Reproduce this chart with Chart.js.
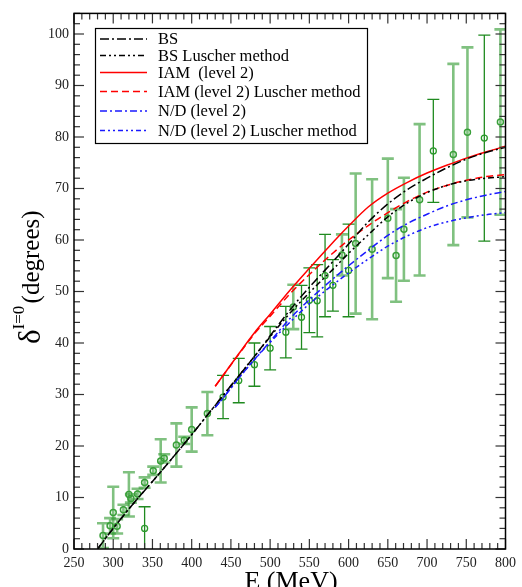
<!DOCTYPE html>
<html>
<head>
<meta charset="utf-8">
<script src="https://cdn.jsdelivr.net/npm/chart.js@4.4.0/dist/chart.umd.min.js"></script>
<style>
  html, body { margin: 0; padding: 0; background: #fff; }
  #wrap { width: 522px; height: 587px; position: relative; }
</style>
</head>
<body>
<div id="wrap"><canvas id="phaseChart"></canvas></div>
<script>
// Experimental points, set drawn with thin dark error bars
const darkEnergy = [340, 440, 460, 480, 500, 520, 540, 550, 560, 570, 580, 600, 708, 773];
const darkPhase  = [4.0, 29.5, 32.7, 35.8, 39.0, 42.1, 45.0, 48.3, 48.2, 53.1, 51.2, 54.1, 77.3, 79.8];
const darkError  = [4.2, 4.2, 4.3, 4.2, 4.2, 5.0, 6.2, 6.3, 7.0, 8.0, 5.0, 9.0, 10.0, 20.0];

// Experimental points, set drawn with wide light error bars
const lightEnergy = [287, 296, 300, 305, 313, 320, 322.5, 331, 340, 351, 360.5, 365, 380.5, 390.5, 400, 420,
                     529.5, 591.5, 609, 630, 650, 660.5, 670.5, 690.5, 733.5, 751.5, 793.5];
const lightPhase  = [2.6, 4.5, 7.1, 4.4, 7.6, 10.6, 9.8, 10.7, 12.9, 15.2, 17.1, 17.6, 20.2, 21.1, 23.2, 26.3,
                     47.0, 57.1, 59.3, 58.2, 64.2, 57.0, 62.1, 67.8, 76.6, 80.9, 82.9];
const lightError  = [2.4, 1.5, 5.0, 1.4, 1.0, 4.3, 0.8, 1.0, 1.0, 0.8, 4.2, 0.8, 4.2, 0.7, 4.3, 4.2,
                     4.3, 4.0, 13.6, 13.6, 11.6, 9.0, 10.0, 14.7, 17.6, 16.5, 18.0];

// BS curves
const bsEnergy = [280, 300, 325, 350, 375, 400, 420, 440, 460, 480, 500, 520, 540, 560, 580, 600, 625, 650, 675, 700, 725, 750, 775, 800];
const bsPhase  = [0, 4.0, 8.7, 13.1, 17.6, 22.2, 26.0, 29.8, 33.6, 37.4, 41.4, 45.4, 49.1, 52.5, 55.8, 59.2, 63.5, 67.0, 69.8, 72.0, 74.0, 75.7, 77.0, 78.0];
const bsLuscherPhase = [0, 4.0, 8.7, 13.1, 17.6, 22.2, 26.0, 29.8, 33.6, 37.4, 41.2, 44.9, 48.2, 51.3, 54.3, 57.4, 61.0, 64.5, 67.2, 69.2, 70.6, 71.5, 72.0, 72.3];

// IAM and N/D curves (level 2)
const modelEnergy = [430, 440, 460, 480, 500, 525, 550, 575, 600, 625, 650, 675, 700, 725, 750, 775, 800];
const iamPhase        = [31.6, 33.7, 37.9, 42.0, 45.6, 50.2, 54.5, 58.7, 62.7, 66.4, 69.1, 71.2, 73.0, 74.5, 75.9, 77.1, 78.2];
const iamLuscherPhase = [31.6, 33.7, 37.8, 41.8, 45.2, 49.5, 53.3, 56.8, 60.0, 62.8, 65.3, 67.5, 69.3, 70.6, 71.6, 72.3, 72.7];
const ndPhase         = [27.5, 29.3, 33.2, 36.8, 40.3, 44.7, 48.4, 51.8, 55.0, 58.0, 60.9, 63.2, 65.0, 66.6, 67.8, 68.7, 69.4];
const ndLuscherPhase  = [27.5, 29.3, 33.2, 36.8, 40.1, 44.0, 47.6, 50.7, 53.6, 56.3, 58.8, 60.8, 62.4, 63.5, 64.3, 64.9, 65.3];

const xTicks = [250, 300, 350, 400, 450, 500, 550, 600, 650, 700, 750, 800];
const yTicks = [0, 10, 20, 30, 40, 50, 60, 70, 80, 90, 100];

const serif = '"Liberation Serif", "DejaVu Serif", serif';
const toPoints = (xs, ys) => xs.map((v, i) => ({ x: v, y: ys[i] }));

const curveStyle = (label, xs, ys, color, dash) => ({
    label: label,
    data: toPoints(xs, ys),
    showLine: true,
    borderColor: color,
    borderWidth: 1.5,
    borderDash: dash,
    pointRadius: 0,
    cubicInterpolationMode: 'monotone',
    fill: false,
    legendDash: dash
});

const datasets = [
    curveStyle('BS', bsEnergy, bsPhase, '#000', [9, 3, 2, 3]),
    curveStyle('BS Luscher method', bsEnergy, bsLuscherPhase, '#000', [6, 3, 2, 3, 2, 3]),
    curveStyle('IAM  (level 2)', modelEnergy, iamPhase, '#ff0000', []),
    curveStyle('IAM (level 2) Luscher method', modelEnergy, iamLuscherPhase, '#ff0000', [7, 4]),
    curveStyle('N/D (level 2)', modelEnergy, ndPhase, '#1a1aff', [7, 3, 2, 3]),
    curveStyle('N/D (level 2) Luscher method', modelEnergy, ndLuscherPhase, '#1a1aff', [5, 3, 2, 3, 2, 3]),
    {
        label: 'data A',
        data: toPoints(darkEnergy, darkPhase),
        errors: darkError,
        barColor: '#1f8a1f',
        barWidth: 1.3,
        showLine: false,
        pointStyle: 'circle',
        pointRadius: 3,
        borderWidth: 1.3,
        borderColor: '#2a9a2a',
        backgroundColor: 'rgba(0,0,0,0)',
        inLegend: false
    },
    {
        label: 'data B',
        data: toPoints(lightEnergy, lightPhase),
        errors: lightError,
        barColor: 'rgba(60,160,60,0.65)',
        barWidth: 2.6,
        showLine: false,
        pointStyle: 'circle',
        pointRadius: 3,
        borderWidth: 1.5,
        borderColor: '#3aa03a',
        backgroundColor: 'rgba(0,0,0,0)',
        inLegend: false
    }
];

// Error bars with caps, drawn under the markers
const errorBars = {
    id: 'errorBars',
    beforeDatasetsDraw(chart) {
        const { ctx, chartArea: a, scales: { x, y } } = chart;
        ctx.save();
        ctx.beginPath();
        ctx.rect(a.left, a.top, a.right - a.left, a.bottom - a.top);
        ctx.clip();
        chart.data.datasets.forEach(ds => {
            if (!ds.errors) return;
            ctx.strokeStyle = ds.barColor;
            ctx.lineWidth = ds.barWidth;
            ds.data.forEach((p, j) => {
                const px = x.getPixelForValue(p.x);
                const top = y.getPixelForValue(p.y + ds.errors[j]);
                const bot = y.getPixelForValue(p.y - ds.errors[j]);
                ctx.beginPath();
                ctx.moveTo(px, top); ctx.lineTo(px, bot);
                ctx.moveTo(px - 6, top); ctx.lineTo(px + 6, top);
                ctx.moveTo(px - 6, bot); ctx.lineTo(px + 6, bot);
                ctx.stroke();
            });
        });
        ctx.restore();
    }
};

// Frame with inward ticks on all four sides
const frameTicks = {
    id: 'frameTicks',
    afterDatasetsDraw(chart) {
        const { ctx, chartArea: a, scales: { x, y } } = chart;
        const seg = (x1, y1, x2, y2) => { ctx.beginPath(); ctx.moveTo(x1, y1); ctx.lineTo(x2, y2); ctx.stroke(); };
        ctx.save();
        ctx.strokeStyle = '#333';
        ctx.lineWidth = 1.2;
        for (let e = 250; e <= 800; e += 10) {
            const px = x.getPixelForValue(e);
            const len = e % 50 === 0 ? 10 : 6;
            seg(px, a.bottom, px, a.bottom - len);
            seg(px, a.top, px, a.top + len);
        }
        for (let d = 0; d <= 104; d += 2) {
            const py = y.getPixelForValue(d);
            const len = d % 10 === 0 ? 10 : 6;
            seg(a.left, py, a.left + len, py);
            seg(a.right, py, a.right - len, py);
        }
        ctx.strokeStyle = '#000';
        ctx.lineWidth = 1.5;
        ctx.strokeRect(a.left, a.top, a.right - a.left, a.bottom - a.top);
        ctx.restore();
    }
};

// Boxed legend in the upper left and the axis titles
const legendAndTitles = {
    id: 'legendAndTitles',
    afterDraw(chart) {
        const { ctx } = chart;
        ctx.save();
        // legend box
        ctx.fillStyle = '#fff';
        ctx.fillRect(95, 28, 273, 115);
        ctx.strokeStyle = '#000';
        ctx.lineWidth = 1.2;
        ctx.strokeRect(95.5, 28.5, 272, 115);
        const rows = [39, 55.5, 72.5, 91.5, 111, 130.5];
        let r = 0;
        chart.data.datasets.forEach(ds => {
            if (ds.inLegend === false) return;
            const yy = rows[r++];
            ctx.strokeStyle = ds.borderColor;
            ctx.lineWidth = 1.5;
            ctx.setLineDash(ds.legendDash);
            ctx.beginPath();
            ctx.moveTo(100, yy); ctx.lineTo(147, yy);
            ctx.stroke();
            ctx.setLineDash([]);
            ctx.fillStyle = '#000';
            ctx.font = '16.5px ' + serif;
            ctx.textBaseline = 'middle';
            ctx.textAlign = 'left';
            ctx.fillText(ds.label, 158, yy + 1);
        });

        // x title
        ctx.fillStyle = '#000';
        ctx.font = '26px ' + serif;
        ctx.textAlign = 'center';
        ctx.textBaseline = 'alphabetic';
        ctx.fillText('E (MeV)', 291, 589);

        // y title: delta with superscript I=0, then (degrees)
        ctx.translate(40, 344);
        ctx.rotate(-Math.PI / 2);
        ctx.textAlign = 'left';
        ctx.font = '31px ' + serif;
        ctx.fillText('δ', 0, 0);
        let off = ctx.measureText('δ').width;
        ctx.font = '17px ' + serif;
        ctx.fillText('I=0', off, -16);
        off += ctx.measureText('I=0').width - 4;
        ctx.font = '25px ' + serif;
        ctx.fillText(' (degrees)', off, -1);
        ctx.restore();
    }
};

new Chart(document.getElementById('phaseChart'), {
    type: 'scatter',
    data: { datasets: datasets },
    options: {
        responsive: true,
        maintainAspectRatio: false,
        animation: false,
        layout: { padding: { left: 0, top: 9, right: 9, bottom: 0 } },
        plugins: {
            legend: { display: false },
            tooltip: { enabled: false }
        },
        scales: {
            x: {
                type: 'linear',
                min: 250,
                max: 800,
                afterFit: s => { s.height = 38; },
                afterBuildTicks: s => { s.ticks = xTicks.map(v => ({ value: v })); },
                grid: { display: false, drawTicks: false },
                border: { display: false },
                ticks: {
                    padding: 6,
                    color: '#222',
                    font: { family: serif, size: 14 },
                    maxRotation: 0
                }
            },
            y: {
                type: 'linear',
                min: 0,
                max: 104,
                afterFit: s => { s.width = 74; },
                afterBuildTicks: s => { s.ticks = yTicks.map(v => ({ value: v })); },
                grid: { display: false, drawTicks: false },
                border: { display: false },
                ticks: {
                    padding: 5,
                    color: '#222',
                    font: { family: serif, size: 14 }
                }
            }
        }
    },
    plugins: [errorBars, frameTicks, legendAndTitles]
});
</script>
</body>
</html>
